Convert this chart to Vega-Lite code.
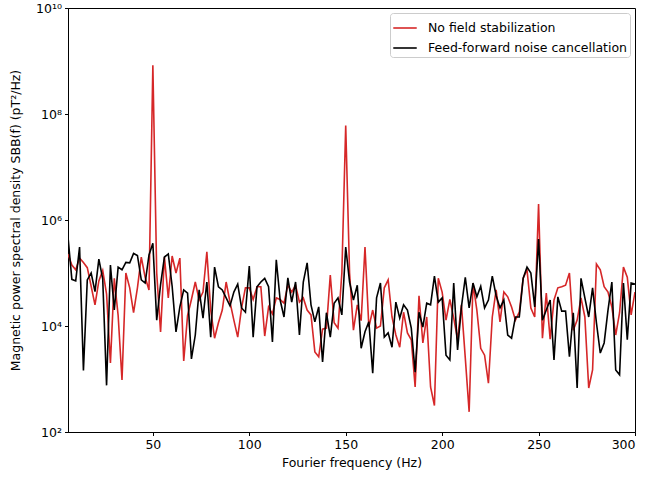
{
  "$schema": "https://vega.github.io/schema/vega-lite/v6.json",
  "autosize": {"type": "none"},
  "padding": {"left": 68, "top": 8, "right": 10, "bottom": 51},
  "width": 567,
  "height": 424,
  "background": "white",
  "config": {
    "font": "DejaVu Sans",
    "view": {"stroke": "black", "strokeWidth": 1},
    "axis": {"grid": false, "domainColor": "black", "tickColor": "black", "labelColor": "black", "titleColor": "black", "labelFontSize": 12.5, "titleFontSize": 12.5, "titleFontWeight": "normal", "tickSize": 3.5, "labelPadding": 3}
  },
  "data": {"values": [
    {"f":6,"nofield":229000,"ff":479000},{"f":8,"nofield":141000,"ff":75900},{"f":10,"nofield":115000,"ff":70800},{"f":12,"nofield":191000,"ff":309000},
    {"f":14,"nofield":158000,"ff":1450},{"f":16,"nofield":126000,"ff":74100},{"f":18,"nofield":56200,"ff":100000},{"f":20,"nofield":25100,"ff":44700},
    {"f":22,"nofield":70800,"ff":182000},{"f":24,"nofield":112000,"ff":77600},{"f":26,"nofield":39800,"ff":759},{"f":28,"nofield":2000,"ff":141000},
    {"f":30,"nofield":79400,"ff":20000},{"f":32,"nofield":15800,"ff":129000},{"f":34,"nofield":955,"ff":115000},{"f":36,"nofield":100000,"ff":158000},
    {"f":38,"nofield":52500,"ff":155000},{"f":40,"nofield":17800,"ff":234000},{"f":42,"nofield":52500,"ff":214000},{"f":44,"nofield":200000,"ff":74100},
    {"f":46,"nofield":83200,"ff":64600},{"f":48,"nofield":47900,"ff":219000},{"f":50,"nofield":832000000,"ff":363000},{"f":52,"nofield":100000,"ff":12900},
    {"f":54,"nofield":7760,"ff":60300},{"f":56,"nofield":200000,"ff":200000},{"f":58,"nofield":33900,"ff":229000},{"f":60,"nofield":209000,"ff":56200},
    {"f":62,"nofield":100000,"ff":7760},{"f":64,"nofield":191000,"ff":22900},{"f":66,"nofield":2190,"ff":47900},{"f":68,"nofield":15800,"ff":41700},
    {"f":70,"nofield":31600,"ff":2400},{"f":72,"nofield":67600,"ff":6760},{"f":74,"nofield":30900,"ff":47900},{"f":76,"nofield":43700,"ff":14100},
    {"f":78,"nofield":251000,"ff":67600},{"f":80,"nofield":20000,"ff":6170},{"f":82,"nofield":5890,"ff":129000},{"f":84,"nofield":11500,"ff":55000},
    {"f":86,"nofield":20000,"ff":47900},{"f":88,"nofield":67600,"ff":33900},{"f":90,"nofield":28200,"ff":24000},{"f":92,"nofield":12900,"ff":43700},
    {"f":94,"nofield":6170,"ff":61700},{"f":96,"nofield":21900,"ff":21900},{"f":98,"nofield":52500,"ff":18200},{"f":100,"nofield":52500,"ff":135000},
    {"f":102,"nofield":31600,"ff":6170},{"f":104,"nofield":55000,"ff":55000},{"f":106,"nofield":55000,"ff":67600},{"f":108,"nofield":6460,"ff":79400},
    {"f":110,"nofield":22900,"ff":55000},{"f":112,"nofield":17000,"ff":5010},{"f":114,"nofield":33900,"ff":178000},{"f":116,"nofield":31600,"ff":30900},
    {"f":118,"nofield":26900,"ff":14800},{"f":120,"nofield":58900,"ff":81300},{"f":122,"nofield":43700,"ff":28200},{"f":124,"nofield":58900,"ff":67600},
    {"f":126,"nofield":28200,"ff":6760},{"f":128,"nofield":33900,"ff":67600},{"f":130,"nofield":20000,"ff":155000},{"f":132,"nofield":16200,"ff":25100},
    {"f":134,"nofield":3240,"ff":12000},{"f":136,"nofield":2630,"ff":22900},{"f":138,"nofield":8710,"ff":2090},{"f":140,"nofield":9120,"ff":17800},
    {"f":142,"nofield":91200,"ff":6170},{"f":144,"nofield":11500,"ff":26900},{"f":146,"nofield":9120,"ff":33900},{"f":148,"nofield":100000,"ff":16200},
    {"f":150,"nofield":60300000,"ff":309000},{"f":152,"nofield":100000,"ff":67600},{"f":154,"nofield":8320,"ff":30900},{"f":156,"nofield":25100,"ff":58900},
    {"f":158,"nofield":12600,"ff":3800},{"f":160,"nofield":309000,"ff":7760},{"f":162,"nofield":9550,"ff":12000},{"f":164,"nofield":20000,"ff":1290},
    {"f":166,"nofield":9120,"ff":33900},{"f":168,"nofield":10000,"ff":64600},{"f":170,"nofield":52500,"ff":6170},{"f":172,"nofield":74100,"ff":7410},
    {"f":174,"nofield":14800,"ff":3980},{"f":176,"nofield":6760,"ff":28200},{"f":178,"nofield":3980,"ff":14100},{"f":180,"nofield":18200,"ff":25100},
    {"f":182,"nofield":7410,"ff":20000},{"f":184,"nofield":5500,"ff":9120},{"f":186,"nofield":708,"ff":1350},{"f":188,"nofield":37200,"ff":18200},
    {"f":190,"nofield":4790,"ff":9550},{"f":192,"nofield":14800,"ff":26900},{"f":194,"nofield":708,"ff":25100},{"f":196,"nofield":316,"ff":87100},
    {"f":198,"nofield":79400,"ff":28200},{"f":200,"nofield":43700,"ff":33900},{"f":202,"nofield":12900,"ff":2820},{"f":204,"nofield":31600,"ff":2290},
    {"f":206,"nofield":14100,"ff":64600},{"f":208,"nofield":5620,"ff":3550},{"f":210,"nofield":25100,"ff":22900},{"f":212,"nofield":2510,"ff":83200},
    {"f":214,"nofield":240,"ff":21900},{"f":216,"nofield":64600,"ff":64600},{"f":218,"nofield":20000,"ff":35500},{"f":220,"nofield":3800,"ff":56200},
    {"f":222,"nofield":2820,"ff":21900},{"f":224,"nofield":832,"ff":30900},{"f":226,"nofield":14800,"ff":87100},{"f":228,"nofield":47900,"ff":37200},
    {"f":230,"nofield":12000,"ff":21900},{"f":232,"nofield":43700,"ff":30900},{"f":234,"nofield":35500,"ff":6760},{"f":236,"nofield":22900,"ff":5890},
    {"f":238,"nofield":12900,"ff":14800},{"f":240,"nofield":18200,"ff":14800},{"f":242,"nofield":79400,"ff":79400},{"f":244,"nofield":115000,"ff":129000},
    {"f":246,"nofield":21900,"ff":100000},{"f":248,"nofield":14800,"ff":22900},{"f":250,"nofield":2000000,"ff":437000},{"f":252,"nofield":5890,"ff":12900},
    {"f":254,"nofield":41700,"ff":20000},{"f":256,"nofield":5620,"ff":30900},{"f":258,"nofield":30900,"ff":2290},{"f":260,"nofield":52500,"ff":35500},
    {"f":262,"nofield":55000,"ff":19100},{"f":264,"nofield":58900,"ff":19100},{"f":266,"nofield":100000,"ff":2630},{"f":268,"nofield":8320,"ff":17800},
    {"f":270,"nofield":12900,"ff":676},{"f":272,"nofield":33900,"ff":79400},{"f":274,"nofield":14800,"ff":33900},{"f":276,"nofield":676,"ff":14800},
    {"f":278,"nofield":1480,"ff":52500},{"f":280,"nofield":148000,"ff":11500},{"f":282,"nofield":115000,"ff":3090},{"f":284,"nofield":55000,"ff":4790},
    {"f":286,"nofield":43700,"ff":20000},{"f":288,"nofield":22900,"ff":67600},{"f":290,"nofield":6760,"ff":1480},{"f":292,"nofield":17800,"ff":1200},
    {"f":294,"nofield":129000,"ff":64600},{"f":296,"nofield":83200,"ff":5500},{"f":298,"nofield":16200,"ff":64600},{"f":300,"nofield":43700,"ff":61700}
  ]},
  "transform": [{"fold": ["nofield", "ff"], "as": ["series", "psd"]}],
  "mark": {"type": "line", "strokeWidth": 1.6, "clip": true},
  "encoding": {
    "x": {"field": "f", "type": "quantitative", "scale": {"domain": [6, 300], "nice": false, "zero": false},
      "axis": {"title": "Fourier frequency (Hz)", "values": [50, 100, 150, 200, 250, 300], "titlePadding": 5}},
    "y": {"field": "psd", "type": "quantitative", "scale": {"type": "log", "domain": [100, 10000000000], "nice": false},
      "axis": {"title": "Magnetic power spectral density SBB(f) (pT²/Hz)", "values": [100, 10000, 1000000, 100000000, 10000000000],
        "labelExpr": "datum.value < 1000 ? '10²' : datum.value < 100000 ? '10⁴' : datum.value < 10000000 ? '10⁶' : datum.value < 1000000000 ? '10⁸' : '10¹⁰'",
        "titlePadding": 13}},
    "color": {"field": "series", "type": "nominal", "sort": ["nofield", "ff"],
      "scale": {"domain": ["nofield", "ff"], "range": ["#d62728", "#000000"]},
      "legend": {"title": null, "orient": "top-right", "offset": 5, "symbolType": "stroke", "symbolStrokeWidth": 1.6, "symbolSize": 550,
        "labelFontSize": 12.5, "labelLimit": 0, "labelOffset": 10, "labelColor": "black", "fillColor": "white", "strokeColor": "#cccccc", "cornerRadius": 3, "padding": 2, "rowPadding": 0,
        "labelExpr": "datum.value == 'nofield' ? 'No field stabilization' : 'Feed-forward noise cancellation'"}}
  }
}
